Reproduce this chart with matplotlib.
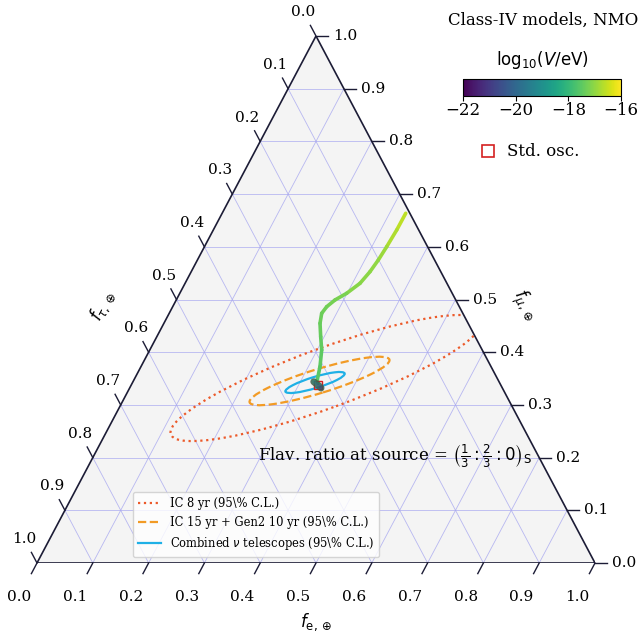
import numpy as np
import matplotlib
matplotlib.use("Agg")
import matplotlib.pyplot as plt
from matplotlib.patches import Ellipse, Polygon
from matplotlib.collections import LineCollection
from matplotlib.lines import Line2D

plt.rcParams["font.family"] = "DejaVu Serif"
plt.rcParams["mathtext.fontset"] = "dejavusans"

# flavour-ratio track (f_e, f_mu), with colour value log10(V/eV)
track_fe = [0.329, 0.3287, 0.3266, 0.3242, 0.3204, 0.3135, 0.2991, 0.2845,
            0.2760, 0.2733, 0.2798, 0.2937, 0.3081, 0.3209, 0.3286, 0.3330]
track_fmu = [0.6636, 0.6319, 0.6002, 0.5750, 0.5528, 0.5307, 0.5118, 0.4991,
             0.4863, 0.4738, 0.4548, 0.4294, 0.4042, 0.3725, 0.3473, 0.3410]
track_logV = [-16.6, -16.75, -16.9, -17.0, -17.05, -17.1, -17.2, -17.25,
              -17.3, -17.35, -17.4, -17.45, -17.5, -17.55, -17.6, -17.8]

# low-V end of the track, piled up at the standard-oscillation point
blob_fe = [0.324, 0.329, 0.334, 0.339, 0.343]
blob_fmu = [0.344, 0.341, 0.338, 0.335, 0.332]
blob_logV = [-19.0, -19.5, -20.0, -20.5, -21.0]

std_fe, std_fmu = 0.3348, 0.3387

# 95% C.L. contours: centre (f_e, f_mu), full axes (in units of the triangle side), tilt
contour_labels = ["IC 8 yr (95\\% C.L.)",
                  "IC 15 yr + Gen2 10 yr (95\\% C.L.)",
                  "Combined $\\nu$ telescopes (95\\% C.L.)"]
contour_fe = [0.342, 0.3336, 0.327]
contour_fmu = [0.351, 0.3454, 0.3425]
contour_major = [0.591, 0.262, 0.111]
contour_minor = [0.1075, 0.043, 0.0200]
contour_angle = [20, 17, 17]
contour_colors = ["#ec5a2a", "#f29b25", "#1fb0e6"]
contour_styles = [":", "--", "-"]

ticks = np.round(np.arange(0, 1.01, 0.1), 1)

H = 527 / 558  # vertical stretch of the triangle in the reference


def to_xy(fe, fmu):
    fe = np.asarray(fe, dtype=float)
    fmu = np.asarray(fmu, dtype=float)
    return fe + 0.5 * fmu, fmu * H


fig = plt.figure(figsize=(6.43, 6.34), dpi=100)
ax = fig.add_axes([37 / 643, 1 - 563 / 634, 558 / 643, 527 / 634])
ax.set_xlim(0, 1)
ax.set_ylim(0, H)
ax.axis("off")

corners = np.array([[0, 0], [1, 0], [0.5, H]])
tri = Polygon(corners, closed=True, facecolor="#f4f4f4", edgecolor="none", zorder=0)
ax.add_patch(tri)

# grid
grid_kw = dict(color="#a8a8f0", lw=0.6, alpha=0.8, zorder=1)
for v in ticks[1:-1]:
    x, y = to_xy([1 - v, 0], [v, v])
    ax.plot(x, y, **grid_kw)
    x, y = to_xy([v, v], [0, 1 - v])
    ax.plot(x, y, **grid_kw)
    x, y = to_xy([1 - v, 0], [0, 1 - v])
    ax.plot(x, y, **grid_kw)

edge = Polygon(corners, closed=True, facecolor="none", edgecolor="#1c1c36",
               lw=1.2, zorder=6)
ax.add_patch(edge)

# ticks and tick labels
tl = 12 / 558
d_left = np.array([0.5, H]) / np.hypot(0.5, H)
d_right = np.array([-0.5, H]) / np.hypot(0.5, H)
for v in ticks:
    # bottom: f_e
    p = np.array(to_xy(v, 0))
    q = p - d_left * tl
    ax.plot([p[0], q[0]], [p[1], q[1]], color="#1c1c36", lw=1.0, clip_on=False)
    lp = p - d_left * 38 / 558
    ax.text(lp[0], lp[1], f"{v:.1f}", ha="center", va="center", fontsize=11)
    # right: f_mu
    p = np.array(to_xy(1 - v, v))
    ax.plot([p[0], p[0] + tl], [p[1], p[1]], color="#1c1c36", lw=1.0, clip_on=False)
    ax.text(p[0] + 17 / 558, p[1], f"{v:.1f}", ha="left", va="center", fontsize=11)
    # left: f_tau
    p = np.array(to_xy(0, 1 - v))
    q = p + d_right * tl
    ax.plot([p[0], q[0]], [p[1], q[1]], color="#1c1c36", lw=1.0, clip_on=False)
    lp = p + d_right * 27 / 558
    ax.text(lp[0], lp[1], f"{v:.1f}", ha="center", va="center", fontsize=11)

ax.text(0.5, -59 / 558, r"$f_{\mathrm{e},\oplus}$", ha="center", va="center", fontsize=12)
ax.text((524 - 37) / 558, (563 - 305) / 558, r"$f_{\mu,\oplus}$", ha="center",
        va="center", fontsize=12, rotation=-62)
ax.text((103 - 37) / 558, (563 - 306) / 558, r"$f_{\tau,\oplus}$", ha="center",
        va="center", fontsize=12, rotation=62)

# contours
handles = []
for i in range(3):
    cx, cy = to_xy(contour_fe[i], contour_fmu[i])
    e = Ellipse((cx, cy), contour_major[i], contour_minor[i], angle=contour_angle[i],
                facecolor="none", edgecolor=contour_colors[i], lw=1.6,
                linestyle=contour_styles[i], zorder=4)
    ax.add_patch(e)
    e.set_clip_path(tri)
    handles.append(Line2D([], [], color=contour_colors[i], lw=1.6,
                          linestyle=contour_styles[i], label=contour_labels[i]))

# track coloured by log10(V/eV)
norm = plt.Normalize(-22, -16)
cmap = plt.get_cmap("viridis")
x, y = to_xy(track_fe, track_fmu)
pts = np.column_stack([x, y]).reshape(-1, 1, 2)
segs = np.concatenate([pts[:-1], pts[1:]], axis=1)
lc = LineCollection(segs, cmap=cmap, norm=norm, lw=2.6, zorder=5, capstyle="round")
lc.set_array(np.array(track_logV[:-1]))
ax.add_collection(lc)

sx, sy = to_xy(std_fe, std_fmu)
ax.plot(sx, sy, marker="s", ms=6, mfc="none", mec="#d42020", mew=1.0, zorder=5)
bx, by = to_xy(blob_fe, blob_fmu)
ax.plot(bx, by, color="#3a6048", lw=5, alpha=0.85, zorder=5, solid_capstyle="round")
ax.scatter(bx, by, c=blob_logV, cmap=cmap, norm=norm, s=10, alpha=0.35,
           edgecolors="none", zorder=5)

ax.text((258 - 37) / 558, (563 - 456) / 558,
        r"Flav. ratio at source = $\left(\frac{1}{3}:\frac{2}{3}:0\right)_\mathrm{S}$",
        ha="left", va="center", fontsize=12, zorder=7)

leg = ax.legend(handles=handles, loc="upper left",
                bbox_to_anchor=(133 / 643, 1 - 492 / 634),
                bbox_transform=fig.transFigure, fontsize=8.3, framealpha=0.8,
                handlelength=2.0, borderaxespad=0, labelspacing=0.55)
leg.set_zorder(8)

# colour bar
cax = fig.add_axes([463 / 643, 1 - 96 / 634, 158 / 643, 17 / 634])
sm = plt.cm.ScalarMappable(norm=norm, cmap=cmap)
cb = fig.colorbar(sm, cax=cax, orientation="horizontal", ticks=[-22, -20, -18, -16])
cb.ax.tick_params(labelsize=12, pad=1)
cax.set_title(r"$\mathrm{log}_{10}(V/\mathrm{eV})$", fontsize=12, pad=10)

fig.text(543 / 643, 1 - 20 / 634, "Class-IV models, NMO", ha="center", va="center",
         fontsize=12)
fig.add_artist(Line2D([488 / 643], [1 - 151 / 634], transform=fig.transFigure,
                      ls="none", marker="s", ms=9, mfc="none", mec="#d42020", mew=1.2))
fig.text(507 / 643, 1 - 151 / 634, "Std. osc.", ha="left", va="center", fontsize=12)

fig.savefig("out.png", dpi=100)
